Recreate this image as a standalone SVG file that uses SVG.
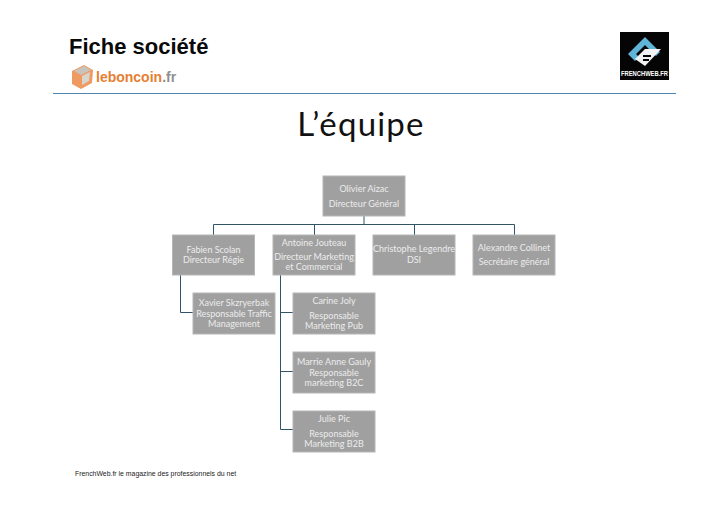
<svg xmlns="http://www.w3.org/2000/svg" width="728" height="515" viewBox="0 0 728 515">
<style>
.box{fill:#a0a0a0;stroke:#b6b6b6;stroke-width:1}
.t{font-family:Lato,"Liberation Sans",sans-serif;font-size:9px;fill:#ececec;text-anchor:middle}
.c{fill:none;stroke:#2f5566;stroke-width:1}
</style>
<rect width="728" height="515" fill="#fff"/>
<g id="header">
<text x="69" y="54" font-family="'Liberation Sans',Arial,sans-serif" font-weight="700" font-size="22" fill="#0a0a0a">Fiche société</text>
<g id="logo-leboncoin">
<path d="M72 71l12-6 9 5-1 13-11 6-9-5z" fill="#ee9a62"/>
<path d="M74 71l10-5 7 4-10 5z" fill="#c9c4bb"/>
<path d="M82 76l8-4-1 9-7 4z" fill="#d9d4cc"/>
<text x="96" y="82" font-family="'Liberation Sans',Arial,sans-serif" font-weight="700" font-size="14" fill="#e57f33">leboncoin<tspan fill="#8f8f8f">.fr</tspan></text>
</g>
<path d="M53 93.500H676" stroke="#4f86ad" stroke-width="1" fill="none"/>
<g id="logo-frenchweb">
<rect x="620" y="32" width="49" height="48" fill="#050505"/>
<path d="M645 37l15 15-4 4-11-11-9 9 3 3-4 4-7-7z" fill="#5fb4d8"/>
<path d="M639 55l6-6 16 0-16 17-10-7z" fill="#f2f2f2"/>
<path d="M643 56h8M643 60h6" stroke="#050505" stroke-width="2"/>
<text x="644.500" y="76" text-anchor="middle" font-family="'Liberation Sans',Arial,sans-serif" font-weight="700" font-size="6.400" fill="#fff" textLength="47" lengthAdjust="spacingAndGlyphs">FRENCHWEB.FR</text>
</g>
</g>
<text x="361" y="136" text-anchor="middle" font-family="Lato,'Liberation Sans',sans-serif" font-size="33" letter-spacing="1.200" fill="#111">L’équipe</text>
<g id="connectors">
<path class="c" d="M364 216V224.500M213.500 235V224.500H514.500V235M314.500 224.500V235M414.500 224.500V235"/>
<path class="c" d="M180.500 275V312.500H193"/>
<path class="c" d="M280.500 275V429.500H294M280.500 312.500H294M280.500 371.500H294"/>
</g>
<g id="olivier"><rect class="box" x="323" y="176" width="82" height="40"/><text class="t" x="364" y="192">Olivier Aizac</text><text class="t" x="364" y="207">Directeur Général</text></g>
<g id="fabien"><rect class="box" x="172.500" y="235" width="82" height="40"/><text class="t" x="213.500" y="253">Fabien Scolan</text><text class="t" x="213.500" y="263">Directeur Régie</text></g>
<g id="antoine"><rect class="box" x="273" y="235" width="82" height="40"/><text class="t" x="314" y="246">Antoine Jouteau</text><text class="t" x="314" y="260">Directeur Marketing</text><text class="t" x="314" y="270">et Commercial</text></g>
<g id="christophe"><rect class="box" x="373" y="235" width="82" height="40"/><text class="t" x="414" y="252">Christophe Legendre</text><text class="t" x="414" y="263">DSI</text></g>
<g id="alexandre"><rect class="box" x="473" y="235" width="82" height="40"/><text class="t" x="514" y="251">Alexandre Collinet</text><text class="t" x="514" y="265">Secrétaire général</text></g>
<g id="xavier"><rect class="box" x="193" y="293" width="82" height="41"/><text class="t" x="234" y="306">Xavier Skzryerbak</text><text class="t" x="234" y="317">Responsable Traffic</text><text class="t" x="234" y="327">Management</text></g>
<g id="carine"><rect class="box" x="293" y="293" width="82" height="41"/><text class="t" x="334" y="304">Carine Joly</text><text class="t" x="334" y="319">Responsable</text><text class="t" x="334" y="329">Marketing Pub</text></g>
<g id="marrie"><rect class="box" x="293" y="352" width="82" height="41"/><text class="t" x="334" y="365">Marrie Anne Gauly</text><text class="t" x="334" y="376">Responsable</text><text class="t" x="334" y="386">marketing B2C</text></g>
<g id="julie"><rect class="box" x="293" y="411" width="82" height="41"/><text class="t" x="334" y="422">Julie Pic</text><text class="t" x="334" y="437">Responsable</text><text class="t" x="334" y="447">Marketing B2B</text></g>
<text x="75" y="476" font-family="'Liberation Sans',Arial,sans-serif" font-size="6.900" fill="#222">FrenchWeb.fr le magazine des professionnels du net</text>
</svg>
